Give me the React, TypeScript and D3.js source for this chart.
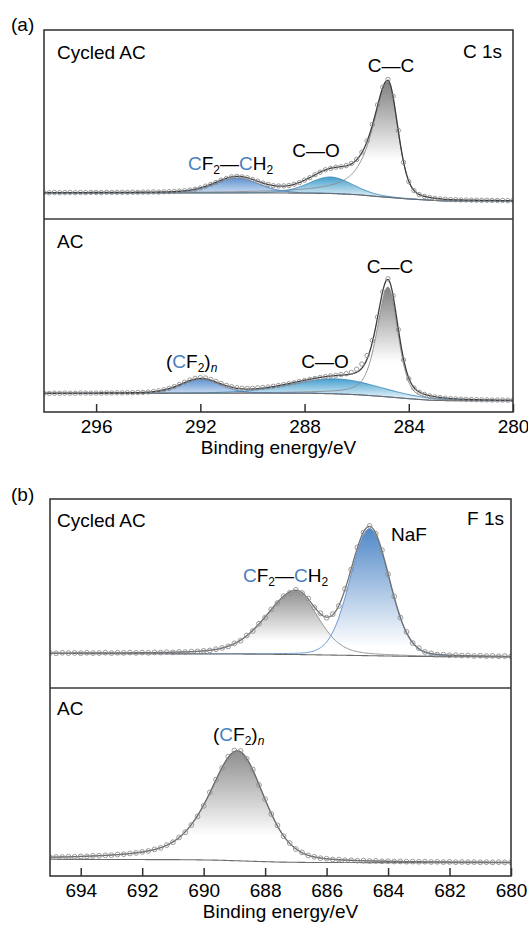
import React, { useEffect, useRef } from 'react'
import * as d3 from 'd3'

const WIDTH = 528
const HEIGHT = 927
const FONT = '"Liberation Sans", Arial, Helvetica, sans-serif'
const BLUE_TEXT = '#4a7fc1'

/* measured spectra: one value every 0.2 eV, starting at the high binding energy end */
const STEP = 0.2
const c1sStart = 298
const f1sStart = 695

const cycledC1s = [
    26.4, 26.2, 26.5, 26.3, 26.4, 26.6, 26.3, 26.5, 26.4, 26.6, 26.5, 26.4, 26.7, 26.5, 26.6, 26.7,
    26.6, 26.8, 26.7, 26.9, 26.9, 27.1, 26.9, 27.2, 27.3, 27.5, 27.8, 28.3, 28.9, 29.8, 31.0, 32.8,
    34.6, 36.5, 38.8, 40.5, 42.1, 42.6, 42.1, 41.2, 39.5, 37.8, 35.9, 34.6, 33.3, 33.0, 33.1, 33.5,
    34.8, 36.4, 38.9, 41.3, 44.3, 46.8, 49.2, 50.6, 51.8, 52.2, 53.4, 55.5, 59.6, 66.8, 78.2, 94.5,
    114.1, 131.8, 139.6, 122.8, 88.5, 56.6, 37.4, 28.3, 24.4, 22.6, 21.4, 20.6, 20.1, 19.8, 19.4,
    19.3, 19.0, 19.0, 18.8, 18.8, 18.7, 18.7, 18.6, 18.5, 18.6, 18.4, 18.5,
]
const pristineC1s = [
    18.7, 18.6, 18.8, 18.7, 18.9, 18.8, 18.7, 19.0, 18.9, 18.8, 19.0, 18.9, 19.1, 19.0, 19.2, 19.1,
    19.3, 19.3, 19.5, 19.6, 20.0, 20.4, 21.1, 22.2, 23.6, 25.4, 27.5, 29.8, 31.9, 33.6, 34.3, 34.0,
    32.6, 30.6, 28.5, 26.6, 25.3, 24.3, 23.8, 23.6, 23.7, 24.1, 24.5, 25.0, 25.7, 26.5, 27.4, 28.3,
    29.3, 30.4, 31.5, 32.6, 33.5, 34.5, 35.3, 36.1, 36.7, 37.4, 38.3, 39.6, 42.8, 48.0, 56.5, 71.5,
    94.8, 120.2, 133.2, 116.3, 82.4, 52.1, 33.2, 24.0, 19.8, 17.6, 16.1, 15.1, 14.4, 13.8, 13.4,
    13.1, 12.9, 12.6, 12.5, 12.3, 12.2, 12.1, 12.0, 12.0, 11.9, 11.8, 11.8,
]
const cycledF1s = [
    35.0, 34.7, 35.2, 34.9, 35.1, 34.8, 35.2, 34.9, 35.0, 35.3, 34.9, 35.2, 35.1, 35.4, 35.1, 35.4,
    35.2, 35.6, 35.4, 35.8, 35.6, 36.0, 35.9, 36.4, 36.6, 37.2, 37.5, 38.8, 40.1, 41.6, 44.6, 47.3,
    52.5, 57.0, 64.3, 70.4, 78.6, 85.0, 91.8, 95.1, 98.2, 95.0, 89.5, 80.6, 74.7, 70.3, 73.8, 82.1,
    99.2, 118.5, 140.6, 155.4, 162.0, 154.2, 137.9, 113.8, 91.6, 70.4, 56.1, 45.0, 39.9, 36.0, 34.7,
    33.4, 33.3, 32.7, 32.8, 32.4, 32.5, 32.0, 32.3, 31.9, 32.1, 31.7, 31.9, 31.6,
]
const pristineF1s = [
    18.8, 19.0, 18.9, 19.2, 19.2, 19.6, 19.7, 20.1, 20.2, 20.7, 20.8, 21.5, 21.8, 22.5, 23.1, 24.1,
    25.0, 26.6, 28.1, 30.9, 33.8, 38.6, 43.7, 51.0, 59.6, 70.2, 83.6, 96.4, 108.0, 119.3, 125.4,
    125.0, 117.2, 106.5, 91.0, 76.9, 62.0, 50.6, 39.8, 32.9, 27.0, 23.6, 20.6, 19.2, 17.8, 17.3,
    16.5, 16.4, 15.8, 15.7, 15.3, 15.4, 15.0, 15.1, 14.7, 14.8, 14.5, 14.6, 14.3, 14.4, 14.2, 14.3,
    14.0, 14.2, 13.9, 14.1, 13.8, 14.0, 13.8, 13.9, 13.7, 13.8, 13.6, 13.8, 13.6, 13.7,
]

/* fitted peaks: [center eV, height, FWHM high-BE side, FWHM low-BE side, lorentz share high side, low side] */
const cycledC1sPeaks = [
    [284.8, 116, 1.4, 0.9, 0.8, 0.3], // C-C
    [287.0, 16.5, 2.0, 2.0, 0.2, 0.2], // C-O
    [290.6, 15, 2.0, 2.0, 0.2, 0.2], // CF2-CH2
]
const pristineC1sPeaks = [
    [284.8, 110, 1.0, 0.9, 0.5, 0.3], // C-C
    [286.8, 15, 4.0, 4.0, 0.2, 0.2], // C-O
    [292.0, 14, 1.8, 1.8, 0.2, 0.2], // (CF2)n
]
const cycledF1sPeaks = [
    [687.0, 63, 2.3, 1.7, 0.3, 0.3], // CF2-CH2
    [684.6, 127, 1.5, 1.5, 0.1, 0.1], // NaF
]
const pristineF1sPeaks = [
    [688.9, 110, 2.2, 2.0, 0.6, 0.3], // (CF2)n
]

/* shirley-like backgrounds: [eV, intensity] knots */
const cycledC1sBg = [[280, 18], [282.6, 18], [283, 18.5], [284, 20], [285, 22], [286, 24.3], [287, 25.5], [288, 25.8], [289, 26], [298, 26]]
const pristineC1sBg = [[280, 11.2], [282.6, 11.4], [283.2, 11.8], [284, 13.3], [285, 15.5], [286, 17.3], [287, 18.3], [288, 18.8], [290, 18.8], [298, 18.5]]
const cycledF1sBg = [[680, 31], [683, 31.5], [685, 32.5], [687, 33.5], [689, 34], [695, 34.5]]
const pristineF1sBg = [[680, 13.2], [686.5, 13.5], [687.5, 13.9], [688.5, 14.8], [689.5, 15.8], [690.5, 16.3], [695, 16.7]]

const c1sTicks = [296, 292, 288, 284, 280]
const f1sTicks = [694, 692, 690, 688, 686, 684, 682, 680]

/* frame geometry of panels (a) and (b) */
const panelA = { left: 44, right: 513, top: 30, mid: 219, bottom: 412, domain: [298, 280] }
const panelB = { left: 50, right: 511, top: 499, mid: 688, bottom: 876, domain: [695, 680] }

/* fill / outline for every fitted peak, same order as the peak lists */
const gray = { top: '#808080', stop: 0.66, stroke: '#8c8c8c' }
const styles = {
    a1: [gray, { top: '#45a0cc', stop: 1, stroke: '#3b88b5' }, { top: '#6094d2', stop: 1, stroke: '#4475b6' }],
    a2: [gray, { top: '#45a0d0', stop: 1, stroke: '#3a86b8' }, { top: '#6094d2', stop: 1, stroke: '#4575b8' }],
    b1: [{ top: '#939393', stop: 0.76, stroke: '#8c8c8c' }, { top: '#5088c8', stop: 0.92, stroke: '#5b8fcf' }],
    b2: [{ top: '#8e8e8e', stop: 0.76, stroke: '#8c8c8c' }],
}

const peakValue = (e, p) => {
    const [c, h, wHi, wLo, mHi, mLo] = p
    const d = e - c
    const w = d >= 0 ? wHi : wLo
    const m = d >= 0 ? mHi : mLo
    const u = (d / w) ** 2
    return h * ((1 - m) * Math.exp(-4 * Math.LN2 * u) + m / (1 + 4 * u))
}

function Spectrum({ id, frame, row, ymax, data, start, peaks, bg, style, envColor, r }) {
    const x = d3.scaleLinear().domain(frame.domain).range([frame.left, frame.right])
    const y0 = row === 0 ? frame.mid : frame.bottom
    const y1 = row === 0 ? frame.top : frame.mid
    const y = d3.scaleLinear().domain([0, ymax]).range([y0, y1])
    const base = d3
        .scaleLinear()
        .domain(bg.map((k) => k[0]))
        .range(bg.map((k) => k[1]))
        .clamp(true)

    const [hi, lo] = frame.domain
    const grid = d3.range(lo, hi + 1e-6, 0.04)
    const line = d3
        .line()
        .x((d) => x(d[0]))
        .y((d) => y(d[1]))
    const area = d3
        .area()
        .x((d) => x(d[0]))
        .y0((d) => y(base(d[0])))
        .y1((d) => y(d[1]))

    const comps = peaks.map((p) => grid.map((e) => [e, base(e) + peakValue(e, p)]))
    const envelope = grid.map((e) => [e, base(e) + d3.sum(peaks, (p) => peakValue(e, p))])
    const bgLine = grid.map((e) => [e, base(e)])
    const points = data.map((v, i) => [start - i * STEP, v])

    return (
        <g>
            <defs>
                <clipPath id={`${id}-clip`}>
                    <rect x={frame.left} y={y1} width={frame.right - frame.left} height={y0 - y1} />
                </clipPath>
                {style.map((s, i) => (
                    <linearGradient key={i} id={`${id}-g${i}`} x1="0" y1="0" x2="0" y2="1">
                        <stop offset="0" stopColor={s.top} />
                        <stop offset={s.stop} stopColor="#ffffff" />
                    </linearGradient>
                ))}
            </defs>
            <g clipPath={`url(#${id}-clip)`}>
                {comps.map((c, i) => (
                    <path key={`f${i}`} d={area(c)} fill={`url(#${id}-g${i})`} />
                ))}
                {comps.map((c, i) => (
                    <path key={`l${i}`} d={line(c)} fill="none" stroke={style[i].stroke} strokeWidth={0.9} />
                ))}
                <path d={line(bgLine)} fill="none" stroke="#6c6c6c" strokeWidth={1.1} />
                <path d={line(envelope)} fill="none" stroke={envColor} strokeWidth={1.3} />
                {points.map((d, i) => (
                    <circle key={i} cx={x(d[0])} cy={y(d[1])} r={r} fill="none" stroke="#8e8e8e" strokeWidth={0.9} />
                ))}
            </g>
        </g>
    )
}

/* CF2—CH2 label with blue carbon atoms */
const CfCh = ({ x, y }) => (
    <text x={x} y={y}>
        <tspan fill={BLUE_TEXT}>C</tspan>
        <tspan>F</tspan>
        <tspan fontSize={12} dy={4}>2</tspan>
        <tspan dy={-4}>—</tspan>
        <tspan fill={BLUE_TEXT}>C</tspan>
        <tspan>H</tspan>
        <tspan fontSize={12} dy={4}>2</tspan>
    </text>
)

/* (CF2)n label */
const Cf2n = ({ x, y }) => (
    <text x={x} y={y}>
        <tspan>(</tspan>
        <tspan fill={BLUE_TEXT}>C</tspan>
        <tspan>F</tspan>
        <tspan fontSize={12} dy={4}>2</tspan>
        <tspan dy={-4}>)</tspan>
        <tspan fontSize={12} dy={4} fontStyle="italic">n</tspan>
    </text>
)

export default function App() {
    const axisA = useRef(null)
    const axisB = useRef(null)

    useEffect(() => {
        const draw = (node, frame, ticks) => {
            const scale = d3.scaleLinear().domain(frame.domain).range([frame.left, frame.right])
            const g = d3.select(node)
            g.call(d3.axisBottom(scale).tickValues(ticks).tickSize(-8).tickPadding(8).tickFormat(d3.format('d')))
            g.select('.domain').remove()
            g.selectAll('line').attr('stroke', '#333').attr('stroke-width', 1.5)
            g.selectAll('text').attr('font-size', 19).attr('font-family', FONT).attr('fill', '#000')
        }
        if (axisA.current) draw(axisA.current, panelA, c1sTicks)
        if (axisB.current) draw(axisB.current, panelB, f1sTicks)
    }, [])

    const frameRect = (f) => (
        <g fill="none" stroke="#3a3a3a" strokeWidth={1.6}>
            <rect x={f.left} y={f.top} width={f.right - f.left} height={f.bottom - f.top} />
            <line x1={f.left} x2={f.right} y1={f.mid} y2={f.mid} />
        </g>
    )

    return (
        <svg
            width={WIDTH}
            height={HEIGHT}
            style={{ position: 'absolute', left: 0, top: 0, background: '#fff' }}
            fontFamily={FONT}
        >
            <Spectrum id="a1" frame={panelA} row={0} ymax={189} data={cycledC1s} start={c1sStart}
                peaks={cycledC1sPeaks} bg={cycledC1sBg} style={styles.a1} envColor="#3c3c3c" r={2.2} />
            <Spectrum id="a2" frame={panelA} row={1} ymax={193} data={pristineC1s} start={c1sStart}
                peaks={pristineC1sPeaks} bg={pristineC1sBg} style={styles.a2} envColor="#3c3c3c" r={2.2} />
            <Spectrum id="b1" frame={panelB} row={0} ymax={189} data={cycledF1s} start={f1sStart}
                peaks={cycledF1sPeaks} bg={cycledF1sBg} style={styles.b1} envColor="#707070" r={2.4} />
            <Spectrum id="b2" frame={panelB} row={1} ymax={188} data={pristineF1s} start={f1sStart}
                peaks={pristineF1sPeaks} bg={pristineF1sBg} style={styles.b2} envColor="#6a6a6a" r={2.4} />

            {frameRect(panelA)}
            {frameRect(panelB)}
            <g ref={axisA} transform={`translate(0, ${panelA.bottom})`} />
            <g ref={axisB} transform={`translate(0, ${panelB.bottom})`} />

            <g fontSize={19} fill="#000">
                {/* panel (a) */}
                <text x={11} y={31}>(a)</text>
                <text x={57} y={59}>Cycled AC</text>
                <text x={502} y={58} textAnchor="end">C 1s</text>
                <text x={391} y={72} textAnchor="middle">C—C</text>
                <text x={316} y={157} textAnchor="middle">C—O</text>
                <CfCh x={188} y={170} />
                <text x={57} y={248}>AC</text>
                <text x={390} y={273} textAnchor="middle">C—C</text>
                <text x={325} y={368} textAnchor="middle">C—O</text>
                <Cf2n x={166} y={368} />
                <text x={(panelA.left + panelA.right) / 2} y={454} textAnchor="middle">Binding energy/eV</text>

                {/* panel (b) */}
                <text x={11} y={501}>(b)</text>
                <text x={57} y={527}>Cycled AC</text>
                <text x={504} y={525} textAnchor="end">F 1s</text>
                <text x={391} y={541}>NaF</text>
                <CfCh x={243} y={582} />
                <text x={57} y={715}>AC</text>
                <Cf2n x={213} y={741} />
                <text x={(panelB.left + panelB.right) / 2} y={918} textAnchor="middle">Binding energy/eV</text>
            </g>
        </svg>
    )
}
